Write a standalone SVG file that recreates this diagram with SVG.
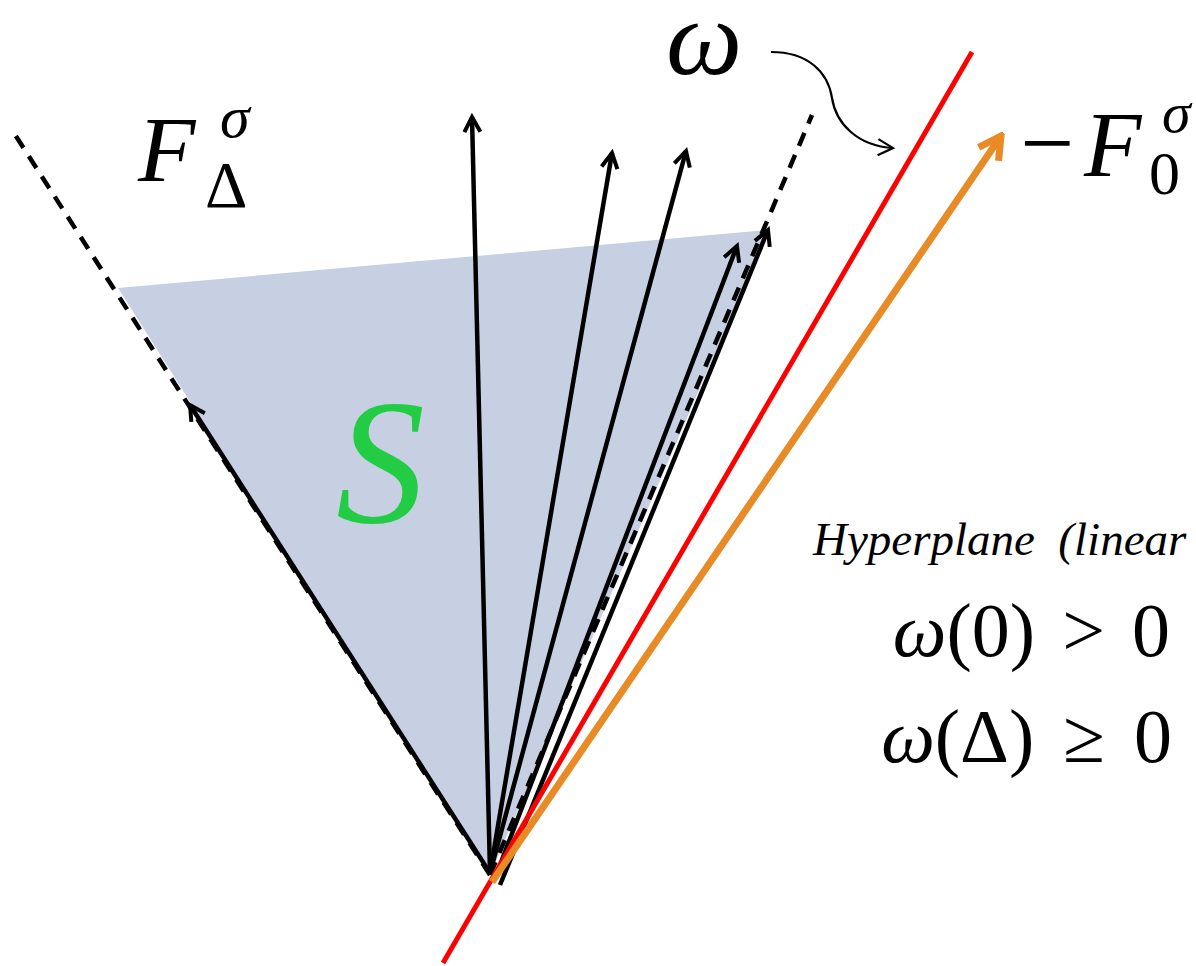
<svg xmlns="http://www.w3.org/2000/svg" width="1196" height="966" viewBox="0 0 1196 966">
<style>
text{font-family:'Liberation Serif','DejaVu Serif',serif}
.i{font-style:italic}
.ray{stroke:#000;stroke-width:4.5;fill:none;marker-end:url(#ah)}
.dash{stroke:#000;stroke-width:4.5;fill:none;stroke-dasharray:14 10}
</style>
<defs>
<marker id="ah" markerUnits="userSpaceOnUse" viewBox="-20 -12 24 24" markerWidth="24" markerHeight="24" refX="0" refY="0" orient="auto">
<path d="M-15,-8 L0,0 L-15,8" fill="none" stroke="#000" stroke-width="4"/>
</marker>
<marker id="ahO" markerUnits="userSpaceOnUse" viewBox="-30 -16 34 32" markerWidth="34" markerHeight="32" refX="0" refY="0" orient="auto">
<path d="M-22,-12 L0,0 L-22,12" fill="none" stroke="#e88a25" stroke-width="7"/>
</marker>
<marker id="ahT" markerUnits="userSpaceOnUse" viewBox="-20 -12 24 24" markerWidth="24" markerHeight="24" refX="0" refY="0" orient="auto">
<path d="M-15,-8 L0,0 L-15,8" fill="none" stroke="#000" stroke-width="2.2"/>
</marker>
</defs>
<g id="region-S">
<polygon points="118,288 768,230 490,875" fill="#c7d0e3"/>
<text x="336" y="522" class="i" font-size="178" fill="#22cc44">S</text>
</g>
<g id="connectors">
<line x1="490" y1="875" x2="12" y2="130" class="dash"/>
<line x1="490" y1="875" x2="812" y2="115" class="dash"/>
<line x1="490" y1="873" x2="190" y2="405" class="ray"/>
<line x1="490" y1="873" x2="472" y2="117" class="ray"/>
<line x1="490" y1="873" x2="612" y2="153" class="ray"/>
<line x1="490" y1="873" x2="686" y2="151" class="ray"/>
<line x1="495" y1="878" x2="737" y2="246" class="ray"/>
<line x1="500" y1="885" x2="768" y2="230" class="ray"/>
<line x1="443" y1="963" x2="972" y2="52" stroke="#ff0000" stroke-width="5"/>
<line x1="492" y1="882" x2="1001" y2="136" stroke="#e88a25" stroke-width="7" marker-end="url(#ahO)"/>
<path d="M771,52 C808,52 828,72 832,98 C836,124 858,146 893,148" stroke="#000" stroke-width="2.2" fill="none" marker-end="url(#ahT)"/>
</g>
<g id="label-F-Delta">
<text x="138" y="181" class="i" font-size="94">F</text>
<text x="220" y="137" class="i" font-size="60">σ</text>
<text x="205" y="207" font-size="66">Δ</text>
</g>
<g id="label-omega">
<text x="666" y="74" class="i" font-size="108">ω</text>
</g>
<g id="label-F0">
<text x="1020" y="175" font-size="96">−</text>
<text x="1084" y="176" class="i" font-size="94">F</text>
<text x="1162" y="132" class="i" font-size="58">σ</text>
<text x="1149" y="194" font-size="62">0</text>
</g>
<g id="label-hyperplane">
<text x="813" y="555" class="i" font-size="47" xml:space="preserve">Hyperplane  (linear</text>
<text x="1170" y="656" font-size="76" word-spacing="8" text-anchor="end"><tspan font-style="italic">ω</tspan>(0) &gt; 0</text>
<text x="1172" y="762" font-size="76" word-spacing="10" text-anchor="end"><tspan font-style="italic">ω</tspan>(Δ) ≥ 0</text>
</g>
</svg>
